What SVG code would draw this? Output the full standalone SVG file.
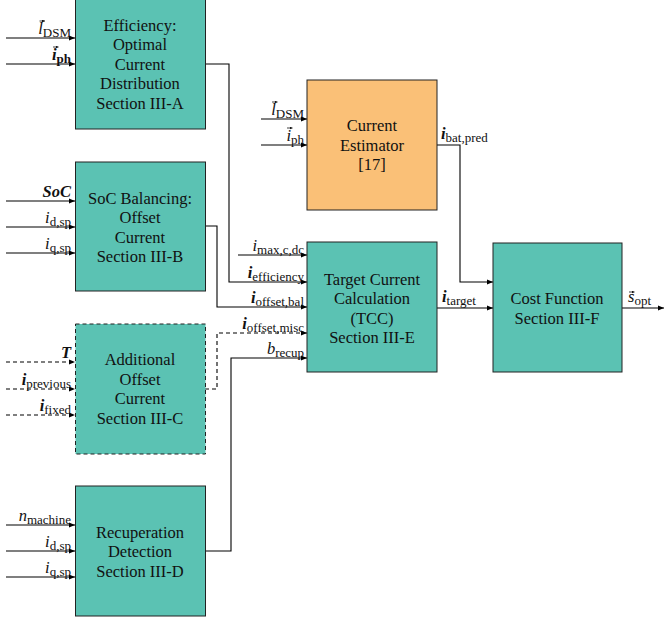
<svg xmlns="http://www.w3.org/2000/svg" width="665" height="619" viewBox="0 0 665 619">
<defs>
<marker id="ah" viewBox="0 0 6 6" refX="6" refY="3" markerWidth="6" markerHeight="6" markerUnits="userSpaceOnUse" orient="auto">
<path d="M0,0.6 L6,3 L0,5.4 Z" fill="#000"/>
</marker>
<marker id="vh" viewBox="0 0 4 4" refX="4" refY="2" markerWidth="3" markerHeight="3" markerUnits="userSpaceOnUse" orient="auto">
<path d="M0,0 L4,2 L0,4 Z" fill="#111"/>
</marker>
<style>
.blk{fill:#5BC2B3;stroke:#222;stroke-width:1}
.est{fill:#FAC077;stroke:#222;stroke-width:1}
.dash{stroke-dasharray:4 3}
text{font-family:"Liberation Serif","Times New Roman","DejaVu Serif",serif;fill:#111}
.t{font-size:16.5px;text-anchor:middle}
.l{font-size:16.5px;text-anchor:end}
.ls{text-anchor:start}
.i{font-style:italic}
.b{font-weight:bold;font-style:italic}
.s{font-size:13px;font-style:normal;font-weight:normal}
.sb{font-size:13px;font-style:normal;font-weight:bold}
.v{stroke:#111;stroke-width:0.8;marker-end:url(#vh)}
.c line,.c polyline{fill:none;stroke:#000;stroke-width:1.1;marker-end:url(#ah)}
</style>
</defs>
<g id="connectors" class="c">
<line x1="6" y1="38" x2="75" y2="38"/>
<line x1="6" y1="64" x2="75" y2="64"/>
<line x1="6" y1="201" x2="75" y2="201"/>
<line x1="6" y1="227" x2="75" y2="227"/>
<line x1="6" y1="253" x2="75" y2="253"/>
<line class="dash" x1="6" y1="362" x2="75" y2="362"/>
<line class="dash" x1="6" y1="389" x2="75" y2="389"/>
<line class="dash" x1="6" y1="415" x2="75" y2="415"/>
<line x1="6" y1="525" x2="75" y2="525"/>
<line x1="6" y1="551" x2="75" y2="551"/>
<line x1="6" y1="577" x2="75" y2="577"/>
<line x1="261" y1="119" x2="307" y2="119"/>
<line x1="261" y1="145" x2="307" y2="145"/>
<line x1="238" y1="255" x2="307" y2="255"/>
<polyline points="205,64 229,64 229,282 307,282"/>
<polyline points="205,226 217,226 217,307 307,307"/>
<polyline class="dash" points="205,389 217,389 217,333 307,333"/>
<polyline points="205,551 231,551 231,358 307,358"/>
<polyline points="437,145 460,145 460,282 493,282"/>
<line x1="437" y1="308" x2="493" y2="308"/>
<line x1="622" y1="308" x2="664" y2="308"/>
</g>
<g id="efficiency">
<rect class="blk" x="75.5" y="-1" width="130" height="130"/>
<text class="t" x="140" y="31">Efficiency:</text>
<text class="t" x="140" y="50">Optimal</text>
<text class="t" x="140" y="70">Current</text>
<text class="t" x="140" y="89">Distribution</text>
<text class="t" x="140" y="109">Section III-A</text>
<text class="l" x="71" y="34"><tspan class="i">l</tspan><tspan class="s" dy="3">DSM</tspan></text>
<line class="v" x1="39.5" y1="21" x2="45" y2="21"/>
<text class="l" x="71" y="60"><tspan class="b">i</tspan><tspan class="sb" dy="3">ph</tspan></text>
<line class="v" x1="53" y1="47" x2="58.5" y2="47"/>
</g>
<g id="soc">
<rect class="blk" x="75.5" y="162" width="130" height="129"/>
<text class="t" x="140" y="204">SoC Balancing:</text>
<text class="t" x="140" y="223">Offset</text>
<text class="t" x="140" y="243">Current</text>
<text class="t" x="140" y="262">Section III-B</text>
<text class="l" x="71" y="197"><tspan class="b">SoC</tspan></text>
<text class="l" x="71" y="223"><tspan class="i">i</tspan><tspan class="s" dy="3">d,sp</tspan></text>
<text class="l" x="71" y="249"><tspan class="i">i</tspan><tspan class="s" dy="3">q,sp</tspan></text>
</g>
<g id="additional">
<rect class="blk dash" x="75.5" y="324" width="130" height="130"/>
<text class="t" x="140" y="365">Additional</text>
<text class="t" x="140" y="385">Offset</text>
<text class="t" x="140" y="404">Current</text>
<text class="t" x="140" y="424">Section III-C</text>
<text class="l" x="71" y="358"><tspan class="b">T</tspan></text>
<text class="l" x="71" y="385"><tspan class="b">i</tspan><tspan class="s" dy="3">previous</tspan></text>
<text class="l" x="71" y="411"><tspan class="b">i</tspan><tspan class="s" dy="3">fixed</tspan></text>
</g>
<g id="recuperation">
<rect class="blk" x="75.5" y="486" width="130" height="130"/>
<text class="t" x="140" y="538">Recuperation</text>
<text class="t" x="140" y="557">Detection</text>
<text class="t" x="140" y="577">Section III-D</text>
<text class="l" x="71" y="521"><tspan class="i">n</tspan><tspan class="s" dy="3">machine</tspan></text>
<text class="l" x="71" y="547"><tspan class="i">i</tspan><tspan class="s" dy="3">d,sp</tspan></text>
<text class="l" x="71" y="573"><tspan class="i">i</tspan><tspan class="s" dy="3">q,sp</tspan></text>
</g>
<g id="estimator">
<rect class="est" x="307" y="80" width="130" height="130"/>
<text class="t" x="372" y="131">Current</text>
<text class="t" x="372" y="151">Estimator</text>
<text class="t" x="372" y="170">[17]</text>
<text class="l" x="304" y="115"><tspan class="i">l</tspan><tspan class="s" dy="3">DSM</tspan></text>
<line class="v" x1="272" y1="102" x2="277.5" y2="102"/>
<text class="l" x="304" y="141"><tspan class="i">i</tspan><tspan class="s" dy="3">ph</tspan></text>
<line class="v" x1="287" y1="128" x2="292.5" y2="128"/>
<text class="l ls" x="441" y="139"><tspan class="b">i</tspan><tspan class="s" dy="3">bat,pred</tspan></text>
</g>
<g id="tcc">
<rect class="blk" x="307" y="242" width="130" height="130"/>
<text class="t" x="372" y="285">Target Current</text>
<text class="t" x="372" y="304">Calculation</text>
<text class="t" x="372" y="324">(TCC)</text>
<text class="t" x="372" y="343">Section III-E</text>
<text class="l" x="304" y="251"><tspan class="i">i</tspan><tspan class="s" dy="3">max,c,dc</tspan></text>
<text class="l" x="304" y="278"><tspan class="b">i</tspan><tspan class="s" dy="3">efficiency</tspan></text>
<text class="l" x="304" y="303"><tspan class="b">i</tspan><tspan class="s" dy="3">offset,bal</tspan></text>
<text class="l" x="304" y="329"><tspan class="b">i</tspan><tspan class="s" dy="3">offset,misc</tspan></text>
<text class="l" x="304" y="354"><tspan class="i">b</tspan><tspan class="s" dy="3">recup</tspan></text>
<text class="l ls" x="442" y="302"><tspan class="b">i</tspan><tspan class="s" dy="3">target</tspan></text>
</g>
<g id="cost">
<rect class="blk" x="493" y="243" width="129" height="129"/>
<text class="t" x="557" y="304">Cost Function</text>
<text class="t" x="557" y="324">Section III-F</text>
<text class="l ls" x="628" y="302"><tspan class="i">s</tspan><tspan class="s" dy="3">opt</tspan></text>
<line class="v" x1="629" y1="292" x2="634.5" y2="292"/>
</g>
</svg>
